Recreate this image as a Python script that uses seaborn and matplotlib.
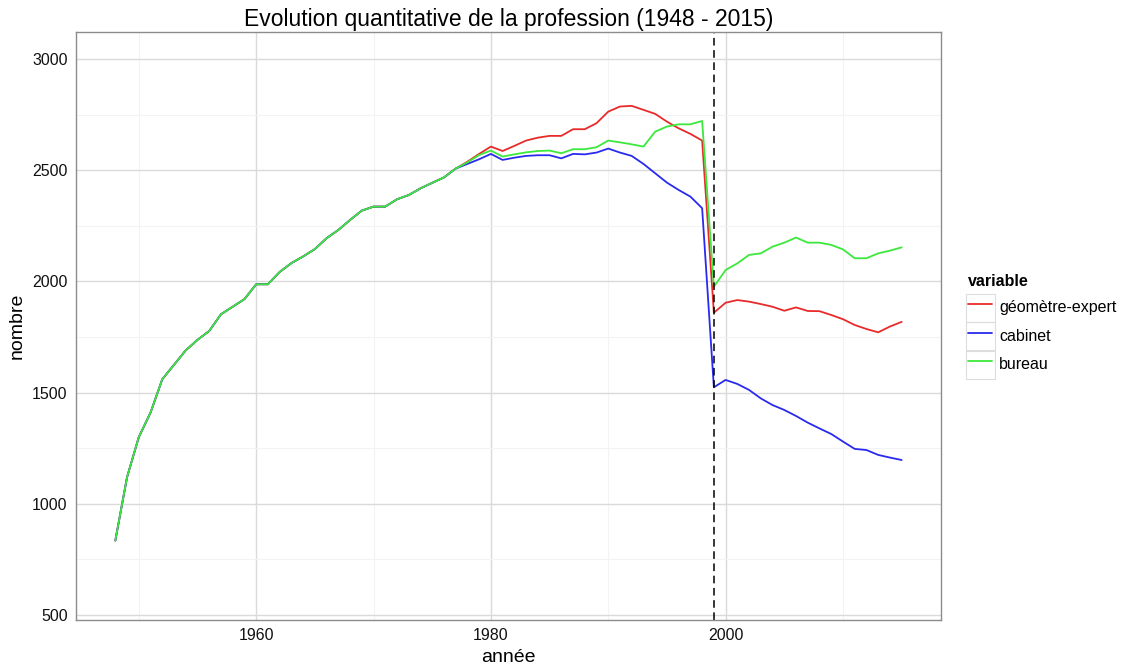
import numpy as np
import pandas as pd
import matplotlib
matplotlib.use('Agg')
import matplotlib.pyplot as plt
import seaborn as sns
from matplotlib.patches import Rectangle

years = list(range(1948, 2016))

# 1948-1977: the three series are the same
shared = [835, 1120, 1300, 1410, 1560, 1625, 1690, 1737, 1777, 1852,
          1886, 1920, 1987, 1987, 2042, 2082, 2112, 2145, 2194, 2231,
          2276, 2318, 2336, 2336, 2369, 2388, 2418, 2443, 2467, 2507]

geometre = shared + [2538, 2573, 2606, 2586, 2609, 2633, 2646, 2654, 2654, 2684,
                     2684, 2711, 2763, 2786, 2789, 2771, 2753, 2718, 2688, 2663,
                     2633,
                     1859, 1904, 1916, 1909, 1898, 1886, 1868, 1883, 1867, 1866,
                     1849, 1830, 1804, 1786, 1771, 1797, 1818]
cabinet = shared + [2528, 2549, 2573, 2546, 2556, 2564, 2567, 2567, 2553, 2573,
                    2571, 2579, 2597, 2579, 2564, 2528, 2486, 2444, 2411, 2381,
                    2329,
                    1524, 1557, 1539, 1512, 1474, 1444, 1422, 1395, 1365, 1339,
                    1314, 1280, 1247, 1242, 1220, 1208, 1197]
bureau = shared + [2535, 2568, 2588, 2561, 2571, 2580, 2586, 2588, 2576, 2594,
                   2594, 2603, 2633, 2625, 2616, 2606, 2673, 2696, 2706, 2706,
                   2721,
                   1976, 2051, 2081, 2119, 2126, 2156, 2174, 2197, 2174, 2174,
                   2164, 2144, 2104, 2104, 2126, 2138, 2153]

variables = ['géomètre-expert', 'cabinet', 'bureau']
colors = ['#E82A2A', '#2A2AEE', '#3CE83C']
reform_year = 1999

df = pd.DataFrame({'année': years * 3,
                   'nombre': geometre + cabinet + bureau,
                   'variable': np.repeat(variables, len(years))})

sns.set_theme(style='white')
plt.rcParams['font.family'] = ['Liberation Sans', 'DejaVu Sans']
plt.rcParams['text.color'] = 'black'
plt.rcParams['axes.labelcolor'] = 'black'

fig = plt.figure(figsize=(11.21, 6.68), dpi=100)
ax = fig.add_axes([0.0678, 0.0719, 0.8394 - 0.0678, 0.9521 - 0.0719])

sns.lineplot(data=df, x='année', y='nombre', hue='variable',
             hue_order=variables, palette=colors, linewidth=1.3, ax=ax)
ax.axvline(reform_year, color='black', linestyle=(0, (5, 3)), linewidth=1.1)

ax.set_xlim(1944.65, 2018.35)
ax.set_ylim(478, 3121)
ax.set_xticks([1960, 1980, 2000])
ax.set_xticks([1950, 1970, 1990, 2010], minor=True)
ax.set_yticks([500, 1000, 1500, 2000, 2500, 3000])
ax.set_yticks([750, 1250, 1750, 2250, 2750], minor=True)
ax.grid(which='major', color='#DADADA', linewidth=1.0)
ax.grid(which='minor', color='#F3F3F3', linewidth=0.8)
ax.set_axisbelow(True)
for s in ax.spines.values():
    s.set_color('#8C8C8C')
    s.set_linewidth(1.0)
ax.tick_params(axis='both', which='major', direction='out', length=4,
               width=1, color='#8C8C8C', labelsize=11.5, labelcolor='#111111', pad=2)
ax.tick_params(axis='both', which='minor', length=0)

ax.set_xlabel('année', fontsize=14, labelpad=4)
ax.set_ylabel('nombre', fontsize=14, labelpad=5)
ax.set_title('Evolution quantitative de la profession (1948 - 2015)', fontsize=16.5, pad=4)

handles, labels = ax.get_legend_handles_labels()
leg = ax.legend(handles, labels, title='variable', loc='upper left',
                bbox_to_anchor=(0.858, 0.6), bbox_transform=fig.transFigure,
                frameon=False, fontsize=11.5, title_fontsize=11.5,
                handlelength=1.5, handleheight=1.6, labelspacing=0.5,
                handletextpad=0.45, borderaxespad=0)
leg.get_title().set_fontweight('bold')
leg._legend_box.align = 'left'
for h in leg.legend_handles:
    h.set_linewidth(1.3)

# grey key boxes like ggplot
fig.canvas.draw()
r = fig.canvas.get_renderer()
for h, t in zip(leg.legend_handles, leg.get_texts()):
    hb = h.get_window_extent(r)
    tb = t.get_window_extent(r)
    cx, cy = (hb.x0 + hb.x1) / 2, (tb.y0 + tb.y1) / 2
    w, hh = 29, 28
    fig.patches.append(Rectangle(((cx - w / 2) / fig.bbox.width, (cy - hh / 2) / fig.bbox.height),
                                 w / fig.bbox.width, hh / fig.bbox.height,
                                 transform=fig.transFigure, facecolor='none',
                                 edgecolor='#DDDDDD', linewidth=0.8, zorder=0))

fig.savefig('out.png', dpi=100)
